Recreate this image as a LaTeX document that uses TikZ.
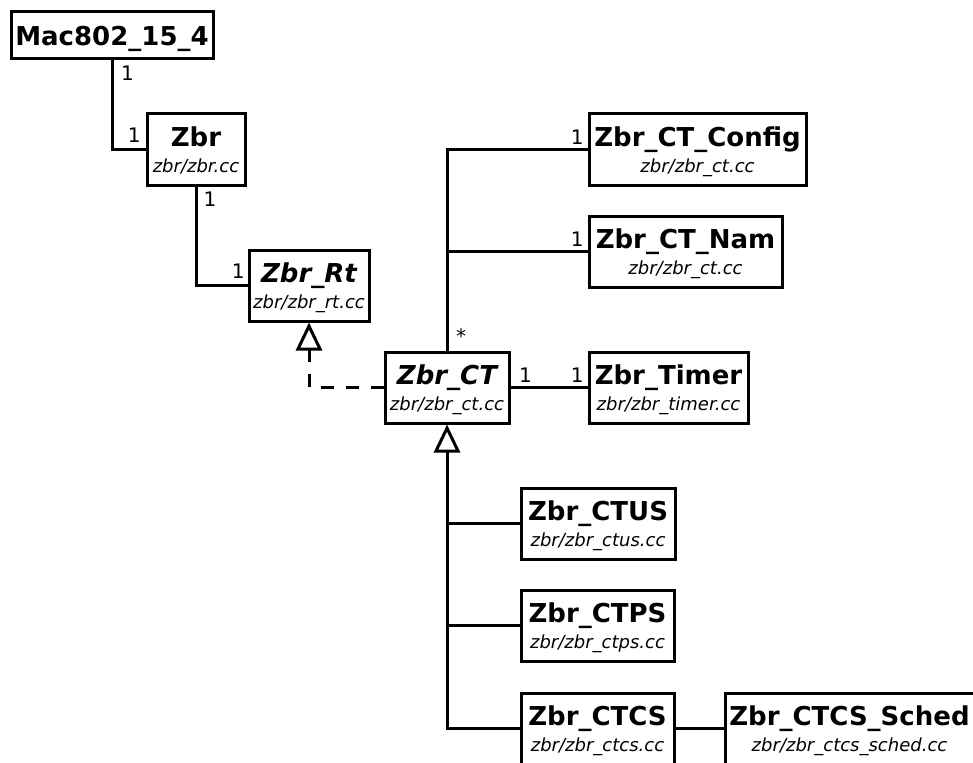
\documentclass[tikz,border=0pt]{standalone}
\usepackage{fontspec}
\setmainfont{DejaVu Sans}
\usetikzlibrary{positioning,arrows.meta}

\newcommand{\clsname}[1]{{\fontsize{26}{26}\selectfont\bfseries\rule{0pt}{24pt}#1}}
\newcommand{\clsabs}[1]{{\fontsize{26}{26}\selectfont\bfseries\itshape\rule{0pt}{24pt}#1}}
\newcommand{\clsfile}[1]{{\itshape #1\rule[-5pt]{0pt}{5pt}}}

\begin{document}
\begin{tikzpicture}[x=1pt,y=-1pt,line width=3pt,
  cls/.style={draw,fill=white,align=center,inner sep=0pt,minimum height=71pt,
    font=\fontsize{18}{26}\selectfont},
  mult/.style={font=\fontsize{20}{20}\selectfont,inner sep=0pt},
  gen/.style={-{Triangle[open,length=28pt,width=26pt]}},
  real/.style={gen,dash pattern=on 13pt off 12pt}]
\useasboundingbox (0,0) rectangle (973,762);
% classes
\node[cls,minimum height=47pt,minimum width=202pt,text height=27pt] (mac) at (112,35.5) {\clsname{Mac802\_15\_4}};
\node[cls,minimum width=98pt] (zbr) at (196,149.5) {\clsname{Zbr}\\\clsfile{zbr/zbr.cc}};
\node[cls,minimum width=120pt] (rt) at (309,285.5) {\clsabs{Zbr\_Rt}\\\clsfile{zbr/zbr\_rt.cc}};
\node[cls,minimum width=124pt] (ct) at (447,387.5) {\clsabs{Zbr\_CT}\\\clsfile{zbr/zbr\_ct.cc}};
\node[cls,minimum width=217pt] (config) at (697.5,149.5) {\clsname{Zbr\_CT\_Config}\\\clsfile{zbr/zbr\_ct.cc}};
\node[cls,minimum width=193pt] (nam) at (685.5,251.5) {\clsname{Zbr\_CT\_Nam}\\\clsfile{zbr/zbr\_ct.cc}};
\node[cls,minimum width=159pt] (timer) at (668.5,387.5) {\clsname{Zbr\_Timer}\\\clsfile{zbr/zbr\_timer.cc}};
\node[cls,minimum width=154pt] (ctus) at (598,523.5) {\clsname{Zbr\_CTUS}\\\clsfile{zbr/zbr\_ctus.cc}};
\node[cls,minimum width=153pt] (ctps) at (597.5,625.5) {\clsname{Zbr\_CTPS}\\\clsfile{zbr/zbr\_ctps.cc}};
\node[cls,minimum width=153pt] (ctcs) at (597.5,728.5) {\clsname{Zbr\_CTCS}\\\clsfile{zbr/zbr\_ctcs.cc}};
\node[cls,minimum width=249pt] (sched) at (849.5,728.5) {\clsname{Zbr\_CTCS\_Sched}\\\clsfile{zbr/zbr\_ctcs\_sched.cc}};
% associations
\draw (mac.south) |- (zbr.west);
\draw (zbr.south) |- (rt.west);
\draw (ct.north) |- (config.west);
\draw (ct.north |- nam.west) -- (nam.west);
\draw (ct.east) -- (timer.west);
\draw (ctcs.east) -- (sched.west);
% inheritance
\draw[real] (ct.west) -| (rt.south);
\draw[gen] (ctcs.west) -| (ct.south);
\draw (ct.south |- ctus.west) -- (ctus.west);
\draw (ct.south |- ctps.west) -- (ctps.west);
% multiplicities
\node[mult,below right=4pt and 7.5pt of mac.south] (m1) {1};
\node[mult,above left=5.5pt and 3.5pt of zbr.west] (m2) {1};
\node[mult,below right=4pt and 6pt of zbr.south] (m3) {1};
\node[mult,above left=5.5pt and 1.5pt of rt.west] (m4) {1};
\node[mult,above right=5.5pt and 7.5pt of ct.north] (m5) {*};
\node[mult,above left=3.5pt and 2.5pt of config.west] (m6) {1};
\node[mult,above left=3.5pt and 2.5pt of nam.west] (m7) {1};
\node[mult,above right=3.5pt and 7pt of ct.east] (m8) {1};
\node[mult,above left=3.5pt and 2.5pt of timer.west] (m9) {1};
\end{tikzpicture}
\end{document}
